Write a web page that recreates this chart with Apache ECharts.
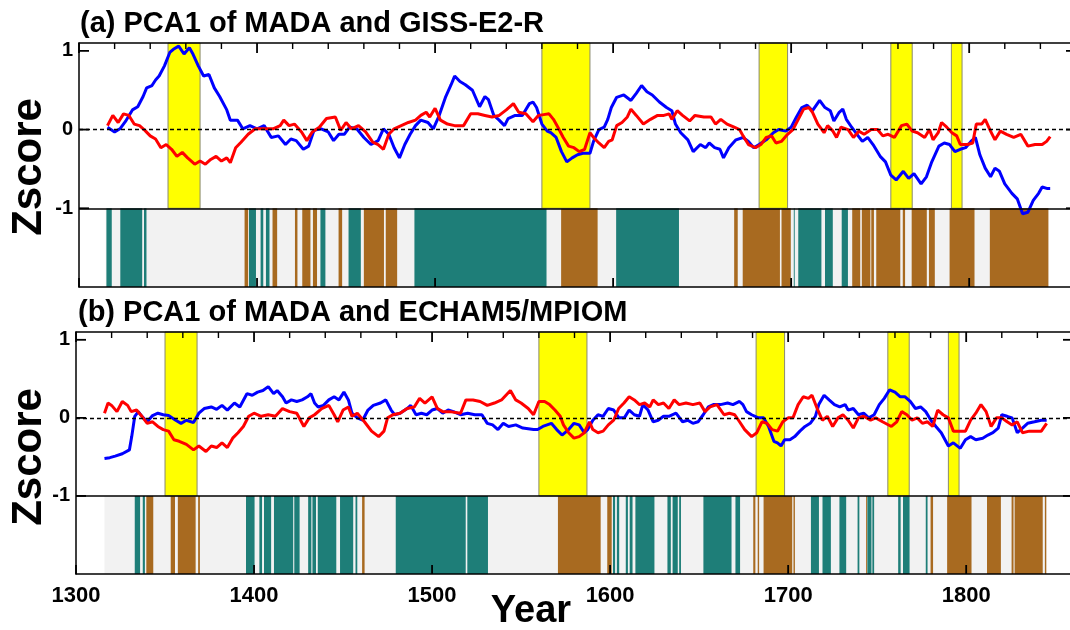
<!DOCTYPE html>
<html>
<head>
<meta charset="utf-8">
<script src="https://cdn.jsdelivr.net/npm/echarts@6/dist/echarts.min.js"></script>
<style>
  html, body { margin: 0; padding: 0; background: #ffffff; }
  #chart { width: 1070px; height: 630px; }
</style>
</head>
<body>
<div id="chart"></div>
<script>
// ---- Axis ranges and tick labels ----
const YEAR_MIN = 1300;
const YEAR_MAX = 1860;
const yearLabels = [1300, 1400, 1500, 1600, 1700, 1800];
const MINOR_STEP = 20;
const zLabels = [-1, 0, 1];
const Z_MIN = -2;
const Z_MAX = 1.1;

// ---- Shaded drought periods (start year, end year) ----
const droughtBands = [[1350, 1368], [1560, 1587], [1682, 1698], [1756, 1768], [1790, 1796]];

// ---- Panel (a): PCA1 of MADA (red) and GISS-E2-R (blue), [year, zscore] ----
const gissPc1 = [
  [1316,0.03],[1320,-0.03],[1323,0.01],[1326,0.10],[1330,0.25],[1333,0.29],[1336,0.42],[1338,0.53],[1341,0.56],[1343,0.63],
  [1345,0.68],[1348,0.81],[1351,0.98],[1353,1.02],[1356,1.06],[1359,0.96],[1362,1.04],[1364,0.96],[1367,0.81],[1370,0.68],
  [1373,0.70],[1376,0.53],[1379,0.42],[1383,0.25],[1385,0.12],[1389,0.12],[1392,0.01],[1396,0.05],[1400,0.01],[1404,0.05],
  [1408,-0.10],[1412,-0.08],[1416,-0.19],[1419,-0.12],[1422,-0.14],[1426,-0.25],[1429,-0.21],[1432,-0.01],[1436,0.01],[1440,-0.03],
  [1443,-0.14],[1446,-0.06],[1449,-0.06],[1452,0.03],[1456,0.01],[1460,-0.10],[1464,-0.19],[1468,-0.14],[1471,0.01],[1474,-0.06],
  [1477,-0.23],[1480,-0.36],[1483,-0.19],[1486,-0.06],[1489,0.05],[1492,0.12],[1496,0.09],[1499,0.01],[1502,0.16],[1506,0.42],
  [1509,0.57],[1511,0.68],[1514,0.61],[1517,0.57],[1521,0.50],[1525,0.29],[1528,0.42],[1530,0.38],[1533,0.18],[1536,0.12],
  [1539,0.05],[1541,0.14],[1545,0.18],[1549,0.18],[1553,0.33],[1555,0.35],[1557,0.28],[1560,0.07],[1563,-0.02],[1565,-0.04],
  [1568,-0.10],[1571,-0.28],[1574,-0.41],[1577,-0.36],[1580,-0.32],[1583,-0.30],[1587,-0.30],[1589,-0.15],[1592,0.00],[1595,0.03],
  [1597,0.13],[1599,0.28],[1602,0.41],[1606,0.44],[1610,0.37],[1613,0.46],[1616,0.56],[1619,0.48],[1622,0.44],[1626,0.35],
  [1630,0.28],[1633,0.24],[1635,0.07],[1638,-0.04],[1642,-0.13],[1645,-0.28],[1649,-0.19],[1652,-0.23],[1654,-0.17],[1657,-0.23],
  [1660,-0.25],[1662,-0.36],[1665,-0.23],[1669,-0.13],[1673,-0.10],[1676,-0.15],[1679,-0.23],[1682,-0.19],[1686,-0.13],[1690,-0.04],
  [1693,0.00],[1697,-0.02],[1700,0.03],[1703,0.16],[1706,0.28],[1709,0.31],[1712,0.24],[1716,0.37],[1719,0.28],[1722,0.24],
  [1724,0.11],[1727,0.22],[1729,0.26],[1731,0.13],[1734,0.03],[1737,-0.06],[1740,-0.15],[1743,-0.10],[1746,-0.19],[1750,-0.34],
  [1753,-0.41],[1756,-0.58],[1759,-0.64],[1763,-0.53],[1766,-0.62],[1769,-0.56],[1773,-0.69],[1776,-0.60],[1779,-0.41],[1783,-0.21],
  [1786,-0.17],[1789,-0.19],[1792,-0.28],[1795,-0.25],[1798,-0.23],[1801,-0.15],[1803.5,-0.10],[1806,-0.32],[1809,-0.49],[1812,-0.60],
  [1814.5,-0.49],[1817,-0.53],[1820,-0.69],[1824,-0.81],[1827,-0.88],[1830,-1.07],[1833,-1.05],[1836,-0.90],[1839,-0.81],[1841,-0.73],
  [1844,-0.75],[1845.5,-0.75]
];
const madaPc1A = [
  [1316,0.05],[1319,0.18],[1322,0.09],[1325,0.20],[1328,0.18],[1331,0.07],[1334,0.05],[1337,-0.01],[1340,-0.08],[1343,-0.12],
  [1346,-0.23],[1349,-0.19],[1352,-0.25],[1355,-0.34],[1358,-0.29],[1361,-0.36],[1365,-0.44],[1368,-0.40],[1371,-0.44],[1374,-0.38],
  [1377,-0.34],[1380,-0.40],[1383,-0.36],[1385,-0.42],[1388,-0.23],[1391,-0.16],[1395,-0.06],[1399,0.01],[1403,0.01],[1409,0.01],
  [1413,0.05],[1415,0.12],[1418,0.05],[1421,0.07],[1425,-0.03],[1428,-0.14],[1431,-0.03],[1435,0.03],[1439,0.14],[1444,0.16],
  [1447,-0.01],[1450,0.09],[1453,0.01],[1457,0.05],[1461,-0.03],[1465,-0.16],[1468,-0.19],[1471,-0.25],[1474,-0.06],[1477,0.01],
  [1481,0.05],[1485,0.09],[1489,0.12],[1492,0.18],[1495,0.22],[1497,0.16],[1500,0.27],[1503,0.12],[1507,0.07],[1511,0.05],
  [1516,0.05],[1520,0.20],[1524,0.20],[1528,0.18],[1532,0.16],[1536,0.18],[1540,0.25],[1544,0.33],[1547,0.22],[1551,0.20],
  [1555,0.10],[1558,0.18],[1561,0.19],[1564,0.20],[1566.5,0.13],[1569,0.03],[1572,-0.10],[1575,-0.21],[1578,-0.23],[1581,-0.28],
  [1584,-0.25],[1587,-0.04],[1589,-0.10],[1592,-0.17],[1595,-0.23],[1597.5,-0.15],[1599.5,-0.13],[1602,0.05],[1605,0.09],[1608,0.16],
  [1610,0.26],[1613,0.18],[1617,0.07],[1621,0.13],[1625,0.18],[1628.5,0.18],[1631.5,0.20],[1633,0.13],[1636,0.24],[1639,0.18],
  [1643,0.11],[1646,0.18],[1651,0.16],[1655,0.16],[1657.5,0.07],[1660.5,0.13],[1664,0.07],[1668,0.03],[1671,0.00],[1673,-0.08],
  [1676,-0.19],[1680,-0.23],[1683,-0.19],[1686,-0.10],[1689,-0.08],[1691.5,-0.17],[1694.5,-0.15],[1698,-0.06],[1701,0.00],[1704,0.13],
  [1707,0.26],[1710,0.28],[1712,0.22],[1715,0.07],[1718.5,-0.04],[1720.5,0.05],[1723.5,-0.02],[1725.5,-0.10],[1728,0.03],[1732,0.00],
  [1735,-0.10],[1738,-0.02],[1741,-0.06],[1745,0.00],[1748.5,0.00],[1751.5,-0.08],[1754.5,-0.06],[1758,-0.10],[1762,0.05],[1765,0.07],
  [1768,-0.02],[1771,-0.04],[1775,-0.10],[1777.7,0.00],[1779.7,-0.13],[1782.6,-0.04],[1784.5,0.09],[1787.4,0.03],[1790.3,-0.04],[1793,-0.08],
  [1795,-0.19],[1799,-0.19],[1802,-0.17],[1804,0.07],[1807,0.07],[1809,0.13],[1812,-0.02],[1814.5,-0.13],[1817.5,-0.02],[1821,-0.06],
  [1825,-0.10],[1829,-0.06],[1833,-0.21],[1837,-0.19],[1841,-0.19],[1843.5,-0.15],[1845.5,-0.09]
];

// ---- Panel (b): PCA1 of MADA (red) and ECHAM5/MPIOM (blue), [year, zscore] ----
const echamPc1 = [
  [1316,-0.52],[1319,-0.51],[1322,-0.49],[1326,-0.46],[1330,-0.41],[1331.3,-0.24],[1333,0.02],[1335,0.08],[1337,0.02],[1340,-0.05],
  [1343,0.03],[1346,0.06],[1349,0.04],[1352,0.03],[1356,-0.03],[1359,-0.07],[1362,-0.03],[1366,-0.06],[1369,0.06],[1372,0.12],
  [1376,0.14],[1379,0.11],[1382,0.16],[1385,0.10],[1389,0.19],[1392,0.14],[1396,0.31],[1399,0.29],[1402,0.33],[1405,0.35],
  [1408,0.40],[1411,0.31],[1413,0.35],[1416,0.27],[1418,0.19],[1421,0.23],[1424,0.21],[1427,0.23],[1430,0.27],[1432,0.31],
  [1434,0.19],[1436,0.14],[1439,0.16],[1442,0.23],[1445,0.27],[1447.7,0.23],[1450.5,0.33],[1453,0.23],[1455,0.06],[1458,0.00],
  [1461,-0.03],[1464,0.10],[1467,0.16],[1471,0.19],[1474,0.23],[1477,0.10],[1479,0.04],[1482,0.06],[1486,0.12],[1488,0.16],
  [1491,0.04],[1494,0.06],[1497,0.04],[1500,0.10],[1503,0.12],[1506,0.06],[1509,0.10],[1512,0.08],[1516,0.04],[1520,0.06],
  [1524,0.04],[1528,0.04],[1531,-0.07],[1534,-0.09],[1537,-0.15],[1540,-0.07],[1543,-0.11],[1547,-0.09],[1551,-0.13],[1554,-0.14],
  [1557,-0.15],[1559.3,-0.15],[1562.2,-0.11],[1567,-0.07],[1570,-0.15],[1573,-0.22],[1576.7,-0.15],[1579.7,-0.07],[1582.6,-0.09],[1585.5,-0.19],
  [1587.4,-0.15],[1590.3,-0.03],[1593.2,0.04],[1596,0.02],[1599,0.12],[1602,0.10],[1605,0.00],[1608,0.00],[1610.7,0.10],[1613.6,0.04],
  [1616.5,0.02],[1618.4,0.17],[1621.3,0.10],[1624.2,-0.05],[1627,-0.03],[1630,0.02],[1633,0.02],[1637,0.06],[1640.7,-0.05],[1643.6,-0.03],
  [1646.5,-0.07],[1649.4,-0.05],[1652.3,0.04],[1655.2,0.14],[1658,0.17],[1662,0.17],[1666,0.19],[1669,0.17],[1672.7,0.21],[1674.6,0.17],
  [1676.6,0.08],[1679.5,0.04],[1683.3,0.00],[1686.2,0.00],[1689,-0.11],[1692,-0.30],[1694,-0.32],[1696,-0.36],[1698,-0.28],[1701,-0.28],
  [1703.7,-0.24],[1706.6,-0.17],[1709.5,-0.11],[1712.4,-0.07],[1715.3,0.02],[1717.2,0.17],[1720.2,0.29],[1723,0.23],[1726,0.17],[1729,0.14],
  [1732,0.17],[1733.7,0.10],[1736.6,0.12],[1739.5,0.04],[1742.4,0.06],[1745.3,0.00],[1748.3,0.04],[1751.2,0.17],[1754,0.25],[1757,0.36],
  [1760,0.33],[1763,0.27],[1765.7,0.27],[1768.6,0.21],[1771.5,0.12],[1774.4,0.14],[1777.3,0.08],[1780.2,-0.03],[1783,-0.11],[1786,-0.19],
  [1790,-0.36],[1792.8,-0.32],[1796.7,-0.39],[1799.6,-0.28],[1802.5,-0.24],[1805.4,-0.28],[1809.3,-0.26],[1812.2,-0.22],[1815,-0.19],[1818,-0.13],
  [1820,0.04],[1823,0.02],[1825.8,0.00],[1828.7,-0.19],[1831.6,-0.13],[1834.5,-0.07],[1838.4,-0.05],[1842.2,-0.03],[1845.2,-0.03]
];
const madaPc1B = [
  [1316,0.06],[1318,0.19],[1320,0.16],[1323,0.08],[1326,0.21],[1329,0.16],[1331,0.08],[1334,0.10],[1337,0.02],[1340,-0.07],
  [1343,-0.05],[1346,-0.11],[1349,-0.15],[1352,-0.17],[1355,-0.28],[1358,-0.30],[1362,-0.34],[1366,-0.41],[1369,-0.36],[1373,-0.43],
  [1376,-0.36],[1379,-0.38],[1382,-0.32],[1385,-0.38],[1388,-0.26],[1391,-0.19],[1394,-0.11],[1397,0.02],[1400,0.06],[1404,0.02],
  [1408,0.04],[1412,0.02],[1416,0.12],[1420,0.08],[1424,0.06],[1428,-0.11],[1431,0.00],[1434,0.04],[1438,0.12],[1442,0.16],
  [1445,0.04],[1447,-0.05],[1450,0.10],[1453,0.14],[1455,0.02],[1458,0.06],[1462,-0.05],[1466,-0.17],[1470,-0.24],[1473,-0.17],
  [1475,0.00],[1478,0.04],[1482,0.06],[1486,0.12],[1490,0.14],[1493,0.25],[1496,0.19],[1500,0.27],[1503,0.12],[1506,0.08],
  [1510,0.08],[1516,0.06],[1519,0.23],[1523,0.23],[1527,0.21],[1531,0.16],[1535,0.19],[1539,0.23],[1544,0.35],[1547,0.23],
  [1550,0.19],[1554,0.12],[1557,0.04],[1560,0.21],[1563.2,0.21],[1566,0.17],[1569,0.10],[1572,0.02],[1573.8,-0.09],[1576.7,-0.19],
  [1579.7,-0.26],[1582.6,-0.24],[1585.5,-0.19],[1588.4,-0.05],[1590.3,-0.15],[1593.2,-0.19],[1596.1,-0.17],[1599,-0.09],[1602,-0.03],[1604.8,0.12],
  [1607.8,0.19],[1610.7,0.27],[1613.6,0.23],[1616.5,0.17],[1619.4,0.19],[1622.3,0.14],[1624.2,0.23],[1627.1,0.17],[1630,0.19],[1633,0.12],
  [1636,0.23],[1638.8,0.17],[1642.6,0.19],[1646.5,0.17],[1650.4,0.19],[1653.3,0.08],[1656.2,0.14],[1660,0.17],[1664,0.04],[1667,0.06],
  [1670,0.04],[1672.7,-0.05],[1675.6,-0.15],[1679.5,-0.24],[1682.4,-0.19],[1685.3,-0.05],[1688.2,-0.07],[1691,-0.15],[1694,-0.17],[1697,-0.05],
  [1700,0.00],[1702.7,0.00],[1705.6,0.17],[1708.5,0.27],[1711.4,0.25],[1713.4,0.29],[1716.3,0.12],[1719.2,-0.03],[1722,0.02],[1725,-0.11],
  [1728,0.00],[1730.8,0.04],[1733.7,-0.03],[1736.6,-0.13],[1739.5,0.00],[1742.4,0.02],[1746.3,-0.03],[1749.2,0.00],[1753,-0.05],[1758,-0.11],
  [1761,-0.05],[1763.8,0.08],[1766.7,0.04],[1769.6,-0.03],[1772.5,0.00],[1775.4,-0.07],[1778.3,-0.05],[1781.2,-0.11],[1784,0.10],[1787,0.04],
  [1790,0.00],[1792.8,-0.17],[1795.7,-0.17],[1799.6,-0.17],[1802.5,-0.03],[1805.4,0.06],[1808.3,0.17],[1811.2,0.08],[1814,-0.11],[1817,0.00],
  [1820,0.00],[1823,-0.05],[1825.8,-0.09],[1828.7,-0.05],[1831.6,-0.19],[1835.5,-0.17],[1839.4,-0.17],[1842.2,-0.17],[1845.2,-0.07]
];

// ---- Sign-agreement strips: [start year, end year, class] (1 = teal, 2 = brown) ----
const stripSpanA = [1315, 1844.5];
const stripA = [
  [1315.4,1318.4,1],[1323.2,1335.5,1],[1336.5,1337.9,1],[1393,1395,2],[1395.5,1399.4,1],[1402,1403.5,1],[1405,1407,1],
  [1408.7,1411.3,2],[1421.3,1422.7,2],[1425.4,1430,2],[1431.4,1433.7,2],[1435.6,1438.4,1],[1445.8,1447.8,2],[1451.4,1458.3,1],
  [1460,1471.3,2],[1472.3,1478.7,2],[1488.4,1562.6,1],[1570.8,1591.3,2],[1601.7,1637,1],[1668,1670,2],[1672.8,1693.7,2],
  [1694.6,1699.8,2],[1701.5,1702,1],[1704,1717,1],[1719,1723.4,1],[1728.4,1731.9,1],[1734.3,1738.8,2],[1739.7,1744.5,2],
  [1745,1746.5,2],[1747.8,1761.3,2],[1762.7,1764,2],[1767.7,1776.2,2],[1777.4,1780.7,2],[1789,1803,2],[1811.6,1844.5,2]
];
const stripSpanB = [1316, 1845];
const stripB = [
  [1333,1336,1],[1337.5,1338.7,1],[1339.5,1343.4,2],[1353.2,1355.6,2],[1357.2,1367.2,2],[1368.6,1369.6,2],[1395.5,1400.3,1],
  [1403,1404.5,1],[1405.6,1409.6,1],[1411.2,1422,1],[1422.6,1425.6,1],[1430.4,1432.2,1],[1432.8,1434.8,1],[1435.8,1446.2,1],
  [1448.3,1455.7,1],[1457,1458,1],[1460.7,1462.1,2],[1479.6,1518.9,1],[1519.8,1531.4,1],[1570.7,1594.7,2],[1598.4,1600.9,2],
  [1601.6,1602.8,1],[1603.8,1605.1,1],[1608.8,1610,1],[1611,1612.6,1],[1614.2,1624.9,1],[1632.2,1634.1,1],[1635.1,1638,1],
  [1638.8,1639.8,1],[1652.4,1668.2,1],[1670.4,1673,1],[1680.4,1681.6,2],[1682.9,1683.7,2],[1686.2,1702.3,2],[1703,1703.8,2],
  [1712.8,1717.3,1],[1719.3,1724,1],[1728.8,1732.6,1],[1739,1740,1],[1743.8,1744.4,2],[1744.5,1746.8,1],[1747.3,1748.3,1],
  [1761.8,1763.2,1],[1764.5,1768.2,1],[1777.3,1778.3,1],[1780,1781.4,2],[1789.3,1803,2],[1811.7,1819.5,2],[1825.5,1826.6,2],
  [1827.2,1843,2],[1844.2,1845,2]
];

// ---- Styling ----
const FONT = '"Liberation Sans", Arial, Helvetica, sans-serif';
const STRIP_COLORS = ['#f2f2f2', '#1e7e78', '#a86a20'];
const MODEL_COLOR = '#0000ff';
const MADA_COLOR = '#ff0000';
const FRAME = { color: '#000000', width: 1.5 };
// tick kinds: 0 top century, 1 top minor, 2 bottom century, 3 left z, 4 right z
const TICK_LEN = [10, 6, 9, 10, 10];
const TICK_WIDTH = [1.8, 1.4, 1.8, 1.8, 1.8];

// tick list shared by both panels: [value, kind]
const tickMarks = [];
for (let y = YEAR_MIN; y <= YEAR_MAX; y += MINOR_STEP) {
  tickMarks.push([y, yearLabels.indexOf(y) >= 0 ? 0 : 1]);
}
yearLabels.forEach(y => tickMarks.push([y, 2]));
zLabels.forEach(z => { tickMarks.push([z, 3]); tickMarks.push([z, 4]); });

const panels = [
  {
    grid: { left: 79, top: 43, width: 997, height: 244 },
    title: '(a) PCA1 of MADA and GISS-E2-R', titlePos: [80, 24], zscorePos: [29, 167],
    model: gissPc1, mada: madaPc1A, stripSpan: stripSpanA, strip: stripA, labels: false
  },
  {
    grid: { left: 76, top: 332, width: 997, height: 242 },
    title: '(b) PCA1 of MADA and ECHAM5/MPIOM', titlePos: [78, 313], zscorePos: [29, 457],
    model: echamPc1, mada: madaPc1B, stripSpan: stripSpanB, strip: stripB, labels: true
  }
];

const grids = [], xAxes = [], yAxes = [], series = [], graphics = [];
const axisPairs = [];

panels.forEach((p, i) => {
  // the frame runs past the right edge of the canvas, so keep the grid box as given
  grids.push(Object.assign({ containLabel: false, outerBoundsMode: 'none' }, p.grid));
  const xi = xAxes.length;
  xAxes.push({
    type: 'value', gridIndex: i, position: 'bottom', min: YEAR_MIN, max: YEAR_MAX, interval: 100, z: 10,
    axisLine: { show: true, onZero: false, lineStyle: FRAME },
    axisTick: { show: false },
    axisLabel: {
      show: p.labels, margin: 11, color: '#000', fontFamily: FONT, fontWeight: 'bold', fontSize: 22,
      formatter: v => (yearLabels.indexOf(v) >= 0 ? String(v) : '')
    },
    splitLine: { show: false }
  });
  xAxes.push({
    type: 'value', gridIndex: i, position: 'top', min: YEAR_MIN, max: YEAR_MAX, interval: 100, z: 10,
    axisLine: { show: true, onZero: false, lineStyle: FRAME },
    axisTick: { show: false }, axisLabel: { show: false }, splitLine: { show: false }
  });
  const yi = yAxes.length;
  yAxes.push({
    type: 'value', gridIndex: i, position: 'left', min: Z_MIN, max: Z_MAX, interval: 1, z: 10,
    axisLine: { show: true, onZero: false, lineStyle: FRAME },
    axisTick: { show: false },
    axisLabel: {
      show: true, margin: 6, color: '#000', fontFamily: FONT, fontWeight: 'bold', fontSize: 20,
      formatter: v => (zLabels.indexOf(v) >= 0 ? String(v) : '')
    },
    splitLine: { show: false }
  });
  yAxes.push({
    type: 'value', gridIndex: i, position: 'right', min: Z_MIN, max: Z_MAX, interval: 1, z: 10,
    axisLine: { show: true, onZero: false, lineStyle: FRAME },
    axisTick: { show: false }, axisLabel: { show: false }, splitLine: { show: false }
  });
  axisPairs.push({ xAxisIndex: xi, yAxisIndex: yi });

  // agreement strip between z = -1 and z = -2
  const stripData = [[p.stripSpan[0], p.stripSpan[1], 0]].concat(p.strip);
  series.push({
    type: 'custom', xAxisIndex: xi, yAxisIndex: yi, z: 1, silent: true,
    data: stripData,
    encode: { x: [0, 1] },
    renderItem: (params, api) => {
      const a = api.coord([api.value(0), -1]);
      const b = api.coord([api.value(1), Z_MIN]);
      return {
        type: 'rect',
        shape: { x: a[0], y: a[1], width: b[0] - a[0], height: b[1] - a[1] },
        style: { fill: STRIP_COLORS[api.value(2)] }
      };
    }
  });

  // yellow drought bands above the strip, plus zero line and strip divider
  series.push({
    type: 'custom', xAxisIndex: xi, yAxisIndex: yi, z: 2, silent: true,
    data: droughtBands,
    encode: { x: [0, 1] },
    renderItem: (params, api) => {
      const a = api.coord([api.value(0), Z_MAX]);
      const b = api.coord([api.value(1), -1]);
      return {
        type: 'rect',
        shape: { x: a[0], y: a[1], width: b[0] - a[0], height: b[1] - a[1] },
        style: { fill: '#ffff00', stroke: '#8a8a70', lineWidth: 1 }
      };
    },
    markLine: {
      silent: true, symbol: 'none', label: { show: false }, animation: false,
      data: [
        { yAxis: 0, lineStyle: { color: '#000', type: [4, 3], width: 1.4 } },
        { yAxis: -1, lineStyle: { color: '#000', type: 'solid', width: 1.5 } }
      ]
    }
  });

  series.push({
    type: 'line', name: 'model', xAxisIndex: xi, yAxisIndex: yi, z: 3,
    data: p.model, showSymbol: false, symbol: 'none',
    lineStyle: { color: MODEL_COLOR, width: 3 }, itemStyle: { color: MODEL_COLOR }
  });
  series.push({
    type: 'line', name: 'MADA', xAxisIndex: xi, yAxisIndex: yi, z: 4,
    data: p.mada, showSymbol: false, symbol: 'none',
    lineStyle: { color: MADA_COLOR, width: 3 }, itemStyle: { color: MADA_COLOR }
  });

  graphics.push({
    type: 'text', x: p.titlePos[0], y: p.titlePos[1], silent: true,
    style: { text: p.title, font: 'bold 29px ' + FONT, fill: '#000', textAlign: 'left', textVerticalAlign: 'middle' }
  });
  graphics.push({
    type: 'text', x: p.zscorePos[0], y: p.zscorePos[1], rotation: Math.PI / 2, silent: true,
    style: { text: 'Zscore', font: 'bold 42px ' + FONT, fill: '#000', textAlign: 'center', textVerticalAlign: 'middle' }
  });
});

graphics.push({
  type: 'text', x: 531, y: 612, silent: true,
  style: { text: 'Year', font: 'bold 38px ' + FONT, fill: '#000', textAlign: 'center', textVerticalAlign: 'middle' }
});

const chart = echarts.init(document.getElementById('chart'), null, { renderer: 'canvas' });
chart.setOption({
  animation: false,
  backgroundColor: '#ffffff',
  grid: grids,
  xAxis: xAxes,
  yAxis: yAxes,
  series: series,
  graphic: graphics
});

// inward tick marks on all four sides of each frame, placed through the axis scales
const tickGraphics = [];
axisPairs.forEach(pair => {
  const toPx = pt => chart.convertToPixel(pair, pt);
  tickMarks.forEach(([v, k]) => {
    const len = TICK_LEN[k];
    let c, shape;
    if (k === 0 || k === 1) {
      c = toPx([v, Z_MAX]);
      shape = { x1: c[0], y1: c[1], x2: c[0], y2: c[1] + len };
    } else if (k === 2) {
      c = toPx([v, Z_MIN]);
      shape = { x1: c[0], y1: c[1], x2: c[0], y2: c[1] - len };
    } else if (k === 3) {
      c = toPx([YEAR_MIN, v]);
      shape = { x1: c[0], y1: c[1], x2: c[0] + len, y2: c[1] };
    } else {
      c = toPx([YEAR_MAX, v]);
      shape = { x1: c[0], y1: c[1], x2: c[0] - len, y2: c[1] };
    }
    tickGraphics.push({
      type: 'line', silent: true, z: 100, shape: shape,
      style: { stroke: '#000000', lineWidth: TICK_WIDTH[k] }
    });
  });
});
chart.setOption({ graphic: graphics.concat(tickGraphics) });
</script>
</body>
</html>
